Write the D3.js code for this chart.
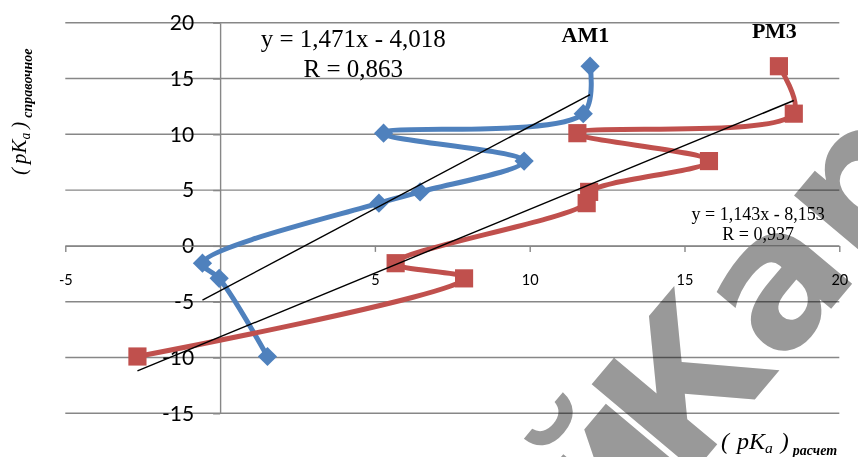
<!DOCTYPE html>
<html lang="ru">
<head>
  <meta charset="UTF-8">
  <script src="https://d3js.org/d3.v7.min.js"></script>
  <title>pKa</title>
  <style>
    body { margin: 0; background: #fff; }
    svg { display: block; }
  </style>
</head>
<body>
  <svg width="858" height="457"></svg>
<script>
  // справочные значения pKa (общие для обоих рядов)
  const pkRef = [16.1, 11.85, 10.1, 7.6, 4.84, 3.83, -1.55, -2.91, -9.91];
  // расчетные значения
  const am1X = [11.95, 11.73, 5.28, 9.82, 6.46, 5.13, -0.57, -0.03, 1.53];
  const pm3X = [18.05, 18.53, 11.54, 15.79, 11.92, 11.84, 5.67, 7.88, -2.67];

  const seriesNames = ["АМ1", "РМ3"];
  const trendSlope = [1.471, 1.143];
  const trendIntercept = [-4.018, -8.153];
  const trendR = ["0,863", "0,937"];

  const xTicks = [-5, 0, 5, 10, 15, 20];
  const yTicks = [-15, -10, -5, 0, 5, 10, 15, 20];

  const svg = d3.select("svg");

  const x = d3.scaleLinear().domain([-5, 20]).range([65.3, 839.3]);
  const y = d3.scaleLinear().domain([-15, 20]).range([413.3, 22.7]);

  const gridColor = "#878787";

  // водяной знак (под графиком, сетка поверх него с multiply)
  const wm = svg.append("g")
    .style("font-family", "'DejaVu Sans', sans-serif")
    .style("font-size", "185px")
    .style("font-weight", "bold")
    .attr("fill", "#999999");

  // сетка
  svg.append("g")
    .selectAll("line")
    .data(yTicks)
    .join("line")
    .attr("x1", x(-5))
    .attr("x2", x(20))
    .attr("y1", d => y(d))
    .attr("y2", d => y(d))
    .attr("stroke", gridColor)
    .attr("stroke-width", 1.4)
    .style("mix-blend-mode", "multiply");

  // ось Y
  const yAxis = svg.append("g")
    .attr("transform", "translate(" + x(0) + ",0)")
    .call(d3.axisLeft(y).tickValues(yTicks).tickFormat(d => String(d))
      .tickSize(7).tickSizeOuter(0).tickPadding(19));
  yAxis.selectAll("path, line").attr("stroke", gridColor).attr("stroke-width", 1.4);
  yAxis.selectAll("text")
    .attr("fill", "#000")
    .style("font-family", "Lato, 'Open Sans', sans-serif")
    .style("font-size", "21px");

  // ось X
  const xAxis = svg.append("g")
    .attr("transform", "translate(0," + y(0) + ")")
    .call(d3.axisBottom(x).tickValues(xTicks).tickFormat(d => String(d))
      .tickSize(6).tickSizeOuter(0).tickPadding(23));
  xAxis.selectAll("path, line").attr("stroke", gridColor).attr("stroke-width", 1.4);
  xAxis.selectAll("text")
    .attr("fill", "#000")
    .style("font-family", "Lato, 'Open Sans', sans-serif")
    .style("font-size", "14.5px");

  const colors = ["#4F81BD", "#C0504D"];
  const seriesX = [am1X, pm3X];

  const line = d3.line()
    .x(d => x(d[0]))
    .y(d => y(d[1]))
    .curve(d3.curveCatmullRom.alpha(0.5));

  seriesX.forEach((xs, i) => {
    const pts = xs.map((v, j) => [v, pkRef[j]]);
    const g = svg.append("g").attr("class", "series");
    g.append("path")
      .datum(pts)
      .attr("d", line)
      .attr("fill", "none")
      .attr("stroke", colors[i])
      .attr("stroke-width", 5)
      .attr("stroke-linejoin", "round");

    const sym = i === 0
      ? d3.symbol().type(d3.symbolSquare).size(185)
      : d3.symbol().type(d3.symbolSquare).size(330);
    g.selectAll(".marker")
      .data(pts)
      .join("path")
      .attr("class", "marker")
      .attr("d", sym)
      .attr("transform", d => "translate(" + x(d[0]) + "," + y(d[1]) + ")" + (i === 0 ? " rotate(45)" : ""))
      .attr("fill", colors[i]);
  });

  // линии тренда
  seriesX.forEach((xs, i) => {
    const ext = d3.extent(xs);
    svg.append("line")
      .attr("x1", x(ext[0]))
      .attr("y1", y(trendSlope[i] * ext[0] + trendIntercept[i]))
      .attr("x2", x(ext[1]))
      .attr("y2", y(trendSlope[i] * ext[1] + trendIntercept[i]))
      .attr("stroke", "#000")
      .attr("stroke-width", 1.4);
  });

  const fmt = v => Math.abs(v).toFixed(3).replace(".", ",");
  const eqText = i => "y = " + fmt(trendSlope[i]) + "x - " + fmt(trendIntercept[i]);

  // уравнения
  const eqPos = [
    { x: x(4.3), y1: 47, y2: 77, size: 25 },
    { x: x(17.38), y1: 220, y2: 240, size: 18 }
  ];
  eqPos.forEach((p, i) => {
    const t = svg.append("text")
      .attr("text-anchor", "middle")
      .style("font-family", "'Liberation Serif', 'Times New Roman', serif")
      .style("font-size", p.size + "px")
      .attr("fill", "#000");
    t.append("tspan").attr("x", p.x).attr("y", p.y1).text(eqText(i));
    t.append("tspan").attr("x", p.x).attr("y", p.y2).text("R = " + trendR[i]);
  });

  // подписи рядов
  const nameX = [x(11.8), x(17.9)];
  const nameY = [42, 38];
  seriesNames.forEach((n, i) => {
    svg.append("text")
      .attr("x", nameX[i])
      .attr("y", nameY[i])
      .attr("text-anchor", "middle")
      .style("font-family", "'Liberation Serif', 'Times New Roman', serif")
      .style("font-size", "22px")
      .style("font-weight", "bold")
      .text(n);
  });

  // подписи осей
  function axisTitle(g, sub, size, subSize, gap) {
    const t = g.append("text")
      .style("font-family", "'Liberation Serif', 'Times New Roman', serif")
      .style("font-style", "italic")
      .style("font-size", size + "px")
      .attr("fill", "#000");
    t.append("tspan").text("(");
    t.append("tspan").attr("dx", gap).text("pK");
    t.append("tspan").attr("dy", 4).style("font-size", (size * 0.65) + "px").text("a");
    t.append("tspan").attr("dy", -4).attr("dx", gap).text(")");
    t.append("tspan").attr("dy", 6).attr("dx", 4).style("font-size", subSize + "px").style("font-weight", "bold").text(sub);
    return t;
  }

  const yTitle = svg.append("g").attr("transform", "translate(26,175) rotate(-90)");
  axisTitle(yTitle, "справочное", 21, 14, 4);

  const xTitle = svg.append("g").attr("transform", "translate(721,449)");
  axisTitle(xTitle, "расчет", 24, 14, 8);

  wm.append("text").attr("transform", "translate(610,556) rotate(-50)").text("й");
  wm.append("text").attr("transform", "translate(684,484) rotate(-50)").text("Кар");
</script>
</body>
</html>
